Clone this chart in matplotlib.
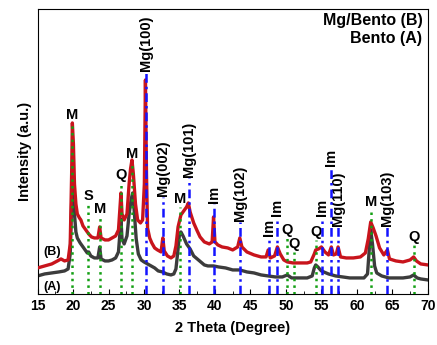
import matplotlib
matplotlib.use('Agg')
import matplotlib.pyplot as plt
from matplotlib.ticker import MultipleLocator

plt.rcParams['font.family'] = ['Liberation Sans', 'DejaVu Sans']
plt.rcParams['font.weight'] = 'bold'

# Mg/Bento (B) pattern (2 theta, intensity a.u.)
theta_b = [15.0, 16.0, 17.0, 17.8, 18.3, 18.8, 19.3, 19.6, 19.8, 19.9, 20.05, 20.2, 20.4,
           20.6, 20.9, 21.1, 21.4, 21.8, 22.2, 22.6, 23.0, 23.5, 23.75, 23.95, 24.5, 25.0,
           25.5, 26.0, 26.4, 26.6, 26.75, 26.9, 27.2, 27.6, 27.9, 28.1, 28.3, 28.5, 28.8,
           29.1, 29.5, 29.8, 30.05, 30.2, 30.35, 30.5, 30.8, 31.1, 31.5, 31.9, 32.4, 32.65,
           32.85, 33.3, 33.8, 34.2, 34.5, 34.8, 35.2, 35.6, 36.0, 36.25, 36.5, 37.0, 37.5,
           37.9, 38.5, 39.2, 39.6, 39.8, 40.0, 40.4, 41.0, 41.8, 42.5, 43.2, 43.5, 43.8,
           44.5, 45.5, 46.5, 47.2, 47.5, 47.8, 48.4, 48.8, 49.2, 49.7, 50.2, 51.0, 52.0,
           53.0, 53.5, 54.0, 54.2, 54.6, 55.0, 55.5, 56.0, 56.4, 56.7, 57.1, 57.35, 57.7,
           58.5, 59.5, 60.5, 61.2, 61.6, 61.95, 62.3, 62.7, 63.2, 63.8, 64.3, 64.6, 65.5,
           66.5, 67.5, 68.0, 68.4, 69.0, 70.0]
int_b = [26, 28, 30, 33, 35, 33, 34, 50, 120, 171, 150, 110, 90,
         80, 76, 74, 68, 64, 60, 57, 56, 56, 67, 56, 54, 54,
         56, 58, 64, 85, 101, 80, 74, 80, 110, 125, 134, 120, 90,
         74, 71, 74, 110, 214, 120, 66, 56, 51, 46, 44, 42, 56,
         43, 38, 36, 38, 48, 67, 79, 83, 87, 91, 82, 71, 63,
         57, 52, 50, 52, 77, 52, 49, 47, 46, 44, 47, 56, 47,
         42, 39, 37, 37, 44, 36, 38, 47, 40, 34, 32, 31, 31,
         31, 32, 40, 44, 45, 47, 42, 39, 47, 39, 40, 47, 37,
         36, 36, 37, 41, 55, 72, 66, 58, 46, 39, 44, 35, 33,
         32, 34, 37, 33, 30, 29]

# Bento (A) pattern
theta_a = [15.0, 16.0, 17.0, 18.0, 18.8, 19.3, 19.6, 19.8, 19.9, 20.05, 20.2, 20.4, 20.6,
           21.0, 21.5, 22.0, 22.2, 22.5, 23.0, 23.5, 23.75, 23.95, 24.5, 25.0, 25.5, 26.0,
           26.4, 26.65, 26.75, 26.9, 27.2, 27.6, 27.9, 28.2, 28.4, 28.6, 28.9, 29.2, 29.6,
           30.0, 30.5, 31.0, 31.5, 32.0, 32.6, 33.2, 33.8, 34.2, 34.5, 34.8, 35.0, 35.2,
           35.5, 36.0, 36.5, 37.0, 37.5, 38.0, 38.5, 39.0, 39.8, 40.5, 41.5, 42.5, 43.5,
           44.5, 45.5, 46.5, 47.5, 48.5, 49.5, 50.2, 50.8, 52.0, 53.0, 53.7, 54.0, 54.2,
           54.5, 55.0, 56.0, 57.0, 58.0, 59.0, 60.0, 61.0, 61.5, 61.75, 61.95, 62.2, 62.5,
           62.8, 63.5, 64.5, 65.5, 66.5, 67.5, 68.0, 68.5, 69.0, 70.0]
int_a = [18, 20, 21, 22, 23, 25, 40, 90, 105, 95, 80, 62, 56,
         51, 46, 41, 42, 38, 36, 36, 47, 35, 33, 33, 34, 36,
         42, 65, 75, 55, 50, 58, 80, 95, 101, 85, 55, 40, 34,
         32, 30, 28, 26, 23, 22, 20, 19, 20, 25, 45, 60, 62,
         58, 50, 45, 38, 35, 32, 29, 28, 28, 27, 26, 24, 24,
         22, 21, 19, 18, 17, 17, 19, 16, 16, 16, 18, 26, 29,
         27, 23, 20, 18, 17, 16, 16, 16, 20, 45, 64, 50, 28,
         21, 18, 16, 16, 16, 17, 19, 16, 15, 14]

# phase markers: green dotted (M, S, Q)
clay_pos = [19.9, 22.17, 23.77, 26.73, 28.37, 35.1, 50.1, 51.1, 54.2, 61.95, 68.05]
clay_top = [171, 90, 77, 111, 132, 87, 56, 42, 54, 84, 49]
clay_lbl = ['M', 'S', 'M', 'Q', 'M', 'M', 'Q', 'Q', 'Q', 'M', 'Q']

# phase markers: blue dash-dot (Mg, Im)
mg_pos = [30.26, 32.7, 36.3, 39.8, 43.5, 47.55, 48.8, 55.1, 56.4, 57.4, 64.3]
mg_top = [222, 97, 116, 90, 72, 57, 77, 77, 127, 67, 67]
mg_lbl = ['Mg(100)', 'Mg(002)', 'Mg(101)', 'Im', 'Mg(102)', 'Im', 'Im', 'Im', 'Im',
          'Mg(110)', 'Mg(103)']

fig = plt.figure(figsize=(4.37, 3.45), dpi=100)
ax = fig.add_axes([0.086, 0.148, 0.893, 0.826])

ax.plot(theta_a, int_a, color='#3c3c3c', linewidth=2.4, zorder=2)
ax.plot(theta_b, int_b, color='#c8141c', linewidth=2.4, zorder=3)

for x, top, lbl in zip(clay_pos, clay_top, clay_lbl):
    ax.plot([x, x], [0, top], color='#14a014', linestyle=':', linewidth=1.8, zorder=4)
    ax.annotate(lbl, xy=(x, top), xytext=(0, 1), textcoords='offset points',
                ha='center', va='bottom', fontsize=10.5, fontweight='bold')

for x, top, lbl in zip(mg_pos, mg_top, mg_lbl):
    ax.plot([x, x], [0, top], color='#1414ff', linestyle=(0, (3.5, 1.6, 1, 1.6)),
            linewidth=1.8, zorder=4)
    ax.annotate(lbl, xy=(x, top), xytext=(0, 1), textcoords='offset points',
                ha='center', va='bottom', rotation=90, fontsize=10.5, fontweight='bold')

ax.text(17.0, 42, '(B)', ha='center', va='center', fontsize=9, fontweight='bold')
ax.text(17.0, 7, '(A)', ha='center', va='center', fontsize=9, fontweight='bold')

ax.text(0.986, 0.961, 'Mg/Bento (B)', transform=ax.transAxes, ha='right', va='center',
        fontsize=11.5, fontweight='bold')
ax.text(0.986, 0.895, 'Bento (A)', transform=ax.transAxes, ha='right', va='center',
        fontsize=11.5, fontweight='bold')

ax.set_xlim(15, 70)
ax.set_ylim(0, 285)
ax.set_yticks([])
ax.xaxis.set_major_locator(MultipleLocator(5))
ax.xaxis.set_minor_locator(MultipleLocator(2.5))
ax.tick_params(axis='x', which='both', direction='in', top=False, labelsize=10)
ax.tick_params(axis='x', which='major', length=3.5)
ax.tick_params(axis='x', which='minor', length=2.5)
ax.set_xlabel('2 Theta (Degree)', fontsize=10.5, fontweight='bold', labelpad=6)
ax.set_ylabel('Intensity (a.u.)', fontsize=10.5, fontweight='bold', labelpad=4)

fig.savefig('out.png', dpi=100)
